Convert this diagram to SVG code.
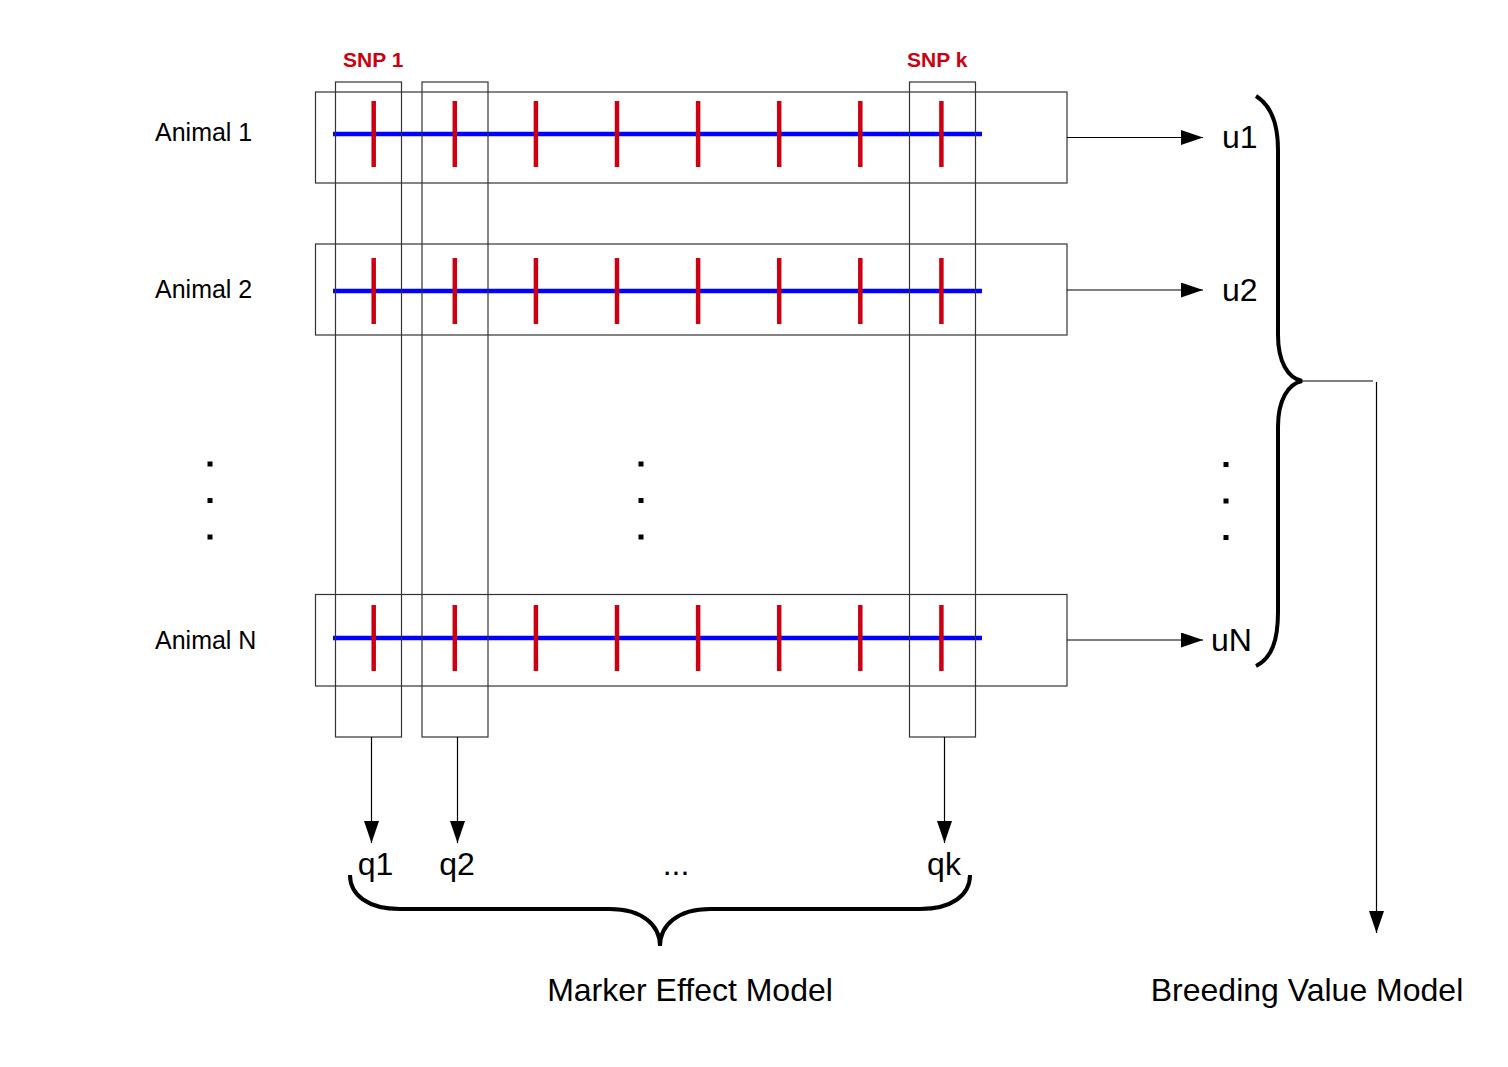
<svg xmlns="http://www.w3.org/2000/svg" width="1508" height="1067" viewBox="0 0 1508 1067">
<style>
.box{fill:none;stroke:#333;stroke-width:1.2}
.col{fill:none;stroke:#333;stroke-width:1.2}
.chrom{stroke:#0000ff;stroke-width:4.5}
.snp{stroke:#cc0011;stroke-width:4.5}
.conn{stroke:#000;stroke-width:1.2;fill:none}
.brace{stroke:#000;stroke-width:4;fill:none}
.lab{font-family:"Liberation Sans",Arial,sans-serif;fill:#000}
.snplab{font-family:"Liberation Sans",Arial,sans-serif;font-weight:bold;font-size:21px;fill:#cc0011}
.dot{fill:#000}
</style>
<defs>
<marker id="arr" markerWidth="22" markerHeight="15" refX="22" refY="7.5" orient="auto" markerUnits="userSpaceOnUse">
<path d="M0,0 L22,7.5 L0,15 Z" fill="#000"/>
</marker>
<g id="snprow">
<line class="chrom" x1="333" y1="0" x2="982" y2="0"/>
<line class="snp" x1="373.7" y1="-33" x2="373.7" y2="33"/>
<line class="snp" x1="454.8" y1="-33" x2="454.8" y2="33"/>
<line class="snp" x1="535.9" y1="-33" x2="535.9" y2="33"/>
<line class="snp" x1="617" y1="-33" x2="617" y2="33"/>
<line class="snp" x1="698.1" y1="-33" x2="698.1" y2="33"/>
<line class="snp" x1="779.2" y1="-33" x2="779.2" y2="33"/>
<line class="snp" x1="860.3" y1="-33" x2="860.3" y2="33"/>
<line class="snp" x1="941.4" y1="-33" x2="941.4" y2="33"/>
</g>
</defs>
<rect width="1508" height="1067" fill="#fff"/>

<g id="animal1">
<rect class="box" x="315.5" y="92" width="751.5" height="91"/>
<use href="#snprow" y="134"/>
<text class="lab" x="155" y="141" font-size="25">Animal 1</text>
</g>
<g id="animal2">
<rect class="box" x="315.5" y="244" width="751.5" height="91"/>
<use href="#snprow" y="291"/>
<text class="lab" x="155" y="298" font-size="25">Animal 2</text>
</g>
<g id="animalN">
<rect class="box" x="315.5" y="594.5" width="751.5" height="91.5"/>
<use href="#snprow" y="638"/>
<text class="lab" x="155" y="649" font-size="25">Animal N</text>
</g>

<g id="snp1col">
<rect class="col" x="335.5" y="82" width="66" height="655"/>
<text class="snplab" x="343" y="67">SNP 1</text>
</g>
<g id="snp2col">
<rect class="col" x="422" y="82" width="66" height="655"/>
</g>
<g id="snpkcol">
<rect class="col" x="909.5" y="82" width="66" height="655"/>
<text class="snplab" x="907" y="67">SNP k</text>
</g>

<g id="dots">
<rect class="dot" x="207.5" y="461.5" width="5" height="5"/>
<rect class="dot" x="207.5" y="498" width="5" height="5"/>
<rect class="dot" x="207.5" y="534.5" width="5" height="5"/>
<rect class="dot" x="638.5" y="461.5" width="5" height="5"/>
<rect class="dot" x="638.5" y="498" width="5" height="5"/>
<rect class="dot" x="638.5" y="534.5" width="5" height="5"/>
<rect class="dot" x="1223.5" y="462" width="5" height="5"/>
<rect class="dot" x="1223.5" y="498.5" width="5" height="5"/>
<rect class="dot" x="1223.5" y="535" width="5" height="5"/>
</g>

<g id="connectors">
<line class="conn" x1="1067" y1="137.5" x2="1203" y2="137.5" marker-end="url(#arr)"/>
<line class="conn" x1="1067" y1="290" x2="1203" y2="290" marker-end="url(#arr)" stroke="#555"/>
<line class="conn" x1="1067" y1="640" x2="1203" y2="640" marker-end="url(#arr)"/>
<line class="conn" x1="371.5" y1="737" x2="371.5" y2="843" marker-end="url(#arr)"/>
<line class="conn" x1="457.5" y1="737" x2="457.5" y2="843" marker-end="url(#arr)"/>
<line class="conn" x1="944.5" y1="737" x2="944.5" y2="843" marker-end="url(#arr)"/>
<line class="conn" x1="1302" y1="381" x2="1373" y2="381"/>
<line class="conn" x1="1376.5" y1="382" x2="1376.5" y2="933" marker-end="url(#arr)" stroke="#555"/>
</g>

<g id="outputs">
<text class="lab" x="1222" y="148" font-size="32">u1</text>
<text class="lab" x="1222" y="301" font-size="32">u2</text>
<text class="lab" x="1211" y="651" font-size="32">uN</text>
<text class="lab" x="375.5" y="875" font-size="32" text-anchor="middle">q1</text>
<text class="lab" x="457" y="875" font-size="32" text-anchor="middle">q2</text>
<text class="lab" x="676" y="875" font-size="32" text-anchor="middle">...</text>
<text class="lab" x="944" y="875" font-size="32" text-anchor="middle">qk</text>
</g>

<g id="braces">
<path class="brace" d="M1256,96 C1272,106 1278,125 1278,150 L1278,335 C1278,362 1288,378 1302,381 C1288,384 1278,400 1278,427 L1278,612 C1278,640 1272,658 1256,666"/>
<path class="brace" d="M350,875 C350,895 368,909 400,909 L610,909 C642,909 660,925 660,946 C660,925 678,909 710,909 L920,909 C952,909 970,895 970,875"/>
</g>

<g id="models">
<text class="lab" x="690" y="1001" font-size="32" text-anchor="middle">Marker Effect Model</text>
<text class="lab" x="1307" y="1001" font-size="32" text-anchor="middle">Breeding Value Model</text>
</g>
</svg>
